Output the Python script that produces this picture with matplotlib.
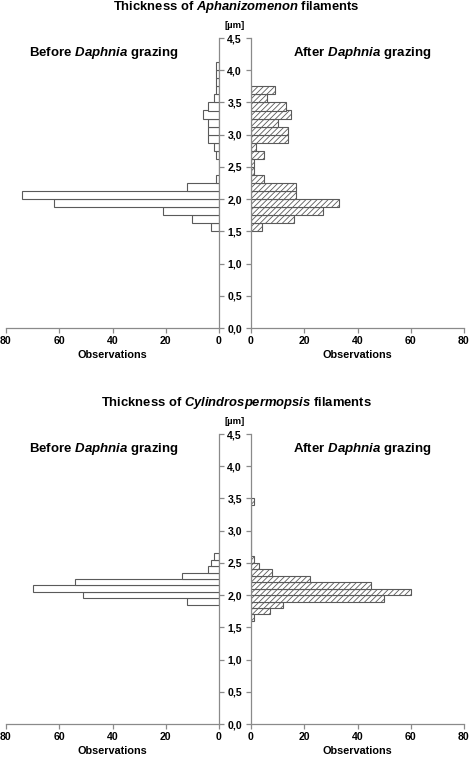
import numpy as np
import matplotlib.pyplot as plt
from matplotlib.ticker import FuncFormatter

plt.rcParams['font.family'] = ['Liberation Sans', 'DejaVu Sans']
plt.rcParams['font.weight'] = 'bold'
plt.rcParams['axes.labelweight'] = 'bold'
plt.rcParams['mathtext.fontset'] = 'custom'
plt.rcParams['mathtext.it'] = 'Liberation Sans:italic:bold'
plt.rcParams['mathtext.rm'] = 'Liberation Sans:bold'
plt.rcParams['hatch.color'] = '#555555'
plt.rcParams['hatch.linewidth'] = 0.6

# Aphanizomenon: thickness classes of 0.125 um, first class starts at 1.5 um
aph_start_before = 1.5
aph_start_after = 1.5
aph_width = 0.125
aph_before = [3, 10, 21, 62, 74, 12, 1, 0, 0, 1, 2, 4, 4, 4, 6, 4, 2, 1, 1, 1, 1]
aph_after = [4, 16, 27, 33, 17, 17, 5, 1, 1, 5, 2, 14, 14, 10, 15, 13, 6, 9]

# Cylindrospermopsis: classes of 0.1 um
cyl_start_before = 1.85
cyl_start_after = 1.6
cyl_width = 0.1
cyl_before = [12, 51, 70, 54, 14, 4, 3, 2]
cyl_after = [1, 7, 12, 50, 60, 45, 22, 8, 3, 1, 0, 0, 0, 0, 0, 0, 0, 0, 1]

obs_ticks = [0, 20, 40, 60, 80]
um_ticks = np.arange(0, 4.51, 0.5)

W, H = 472, 757
fig = plt.figure(figsize=(W / 100, H / 100), dpi=100)

grey = '#8a8a8a'
edge = '#5a5a5a'


def px_rect(x0, y0, x1, y1):
    return [x0 / W, 1 - y1 / H, (x1 - x0) / W, (y1 - y0) / H]


def comma(v, pos):
    return f'{v:.1f}'.replace('.', ',')


def panel(top, name, sb, sa, width, before, after):
    bot = top + 290
    fig.text(236 / W, 1 - (top - 31) / H, 'Thickness of $\\mathit{' + name + '}$ filaments',
             ha='center', va='center', fontsize=9.4)
    fig.text(235 / W, 1 - (top - 12) / H, '[µm]', ha='center', va='center', fontsize=6.8)
    fig.text(104 / W, 1 - (top + 15) / H, 'Before $\\mathit{Daphnia}$ grazing',
             ha='center', va='center', fontsize=9.5)
    fig.text(362 / W, 1 - (top + 15) / H, 'After $\\mathit{Daphnia}$ grazing',
             ha='center', va='center', fontsize=9.5)

    axl = fig.add_axes(px_rect(6, top, 219, bot))
    axr = fig.add_axes(px_rect(251, top, 464, bot))

    yb = sb + width * np.arange(len(before))
    ya = sa + width * np.arange(len(after))
    axl.barh(yb, before, height=width, align='edge', color='white',
             edgecolor=edge, linewidth=0.8)
    axr.barh(ya, after, height=width, align='edge', color='white',
             edgecolor=edge, linewidth=0.8, hatch='//////')

    axl.set_xlim(80, 0)
    axr.set_xlim(0, 80)
    for ax in (axl, axr):
        ax.set_ylim(0, 4.5)
        ax.set_xticks(obs_ticks)
        ax.set_yticks(um_ticks)
        ax.spines['top'].set_visible(False)
        for s in ax.spines.values():
            s.set_color(grey)
            s.set_linewidth(0.9)
        ax.tick_params(colors=grey, labelcolor='black', labelsize=7.6,
                       length=3.5, width=0.9, pad=2)
        ax.set_xlabel('Observations', fontsize=7.8, labelpad=3)
        ax.patch.set_alpha(0)

    axl.spines['left'].set_visible(False)
    axl.yaxis.tick_right()
    axl.yaxis.set_major_formatter(FuncFormatter(comma))
    axl.tick_params(axis='y', pad=2.5)

    axr.spines['right'].set_visible(False)
    axr.tick_params(axis='y', labelleft=False)


panel(38, 'Aphanizomenon', aph_start_before, aph_start_after, aph_width,
      aph_before, aph_after)
panel(434, 'Cylindrospermopsis', cyl_start_before, cyl_start_after, cyl_width,
      cyl_before, cyl_after)

fig.savefig('out.png', dpi=100)
